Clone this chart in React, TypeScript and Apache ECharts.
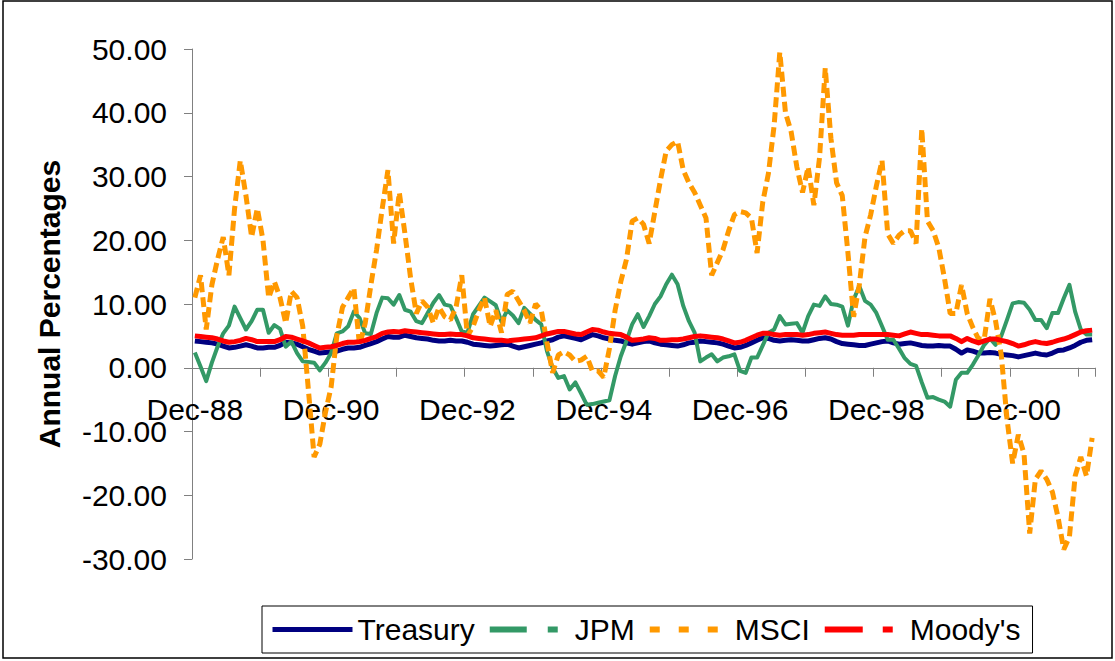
import React, { useEffect, useRef } from "react";
import * as echarts from "echarts";

const FONT = "'Liberation Sans', Arial, Helvetica, sans-serif";

const MONTH_NAMES = ["Jan", "Feb", "Mar", "Apr", "May", "Jun", "Jul", "Aug", "Sep", "Oct", "Nov", "Dec"];
const START_YEAR = 1988;
const START_MONTH = 11; // December

const seriesNames = ["Treasury", "JPM", "MSCI", "Moody's"];

const treasury = [
  4.2, 4.1, 4.0, 3.9, 3.7, 3.4, 3.1, 3.2, 3.4, 3.6, 3.4, 3.1,
  3.1, 3.2, 3.2, 3.5, 4.0, 3.9, 3.7, 3.3, 2.9, 2.6, 2.3, 2.4,
  2.5, 2.6, 2.9, 3.1, 3.1, 3.2, 3.5, 3.8, 4.1, 4.5, 4.9, 4.8,
  4.8, 5.1, 4.9, 4.7, 4.6, 4.5, 4.3, 4.2, 4.2, 4.3, 4.2, 4.2,
  4.0, 3.7, 3.6, 3.5, 3.4, 3.5, 3.6, 3.7, 3.4, 3.1, 3.3, 3.5,
  3.7, 3.9, 4.2, 4.4, 4.8, 5.0, 4.8, 4.6, 4.4, 4.8, 5.2, 5.0,
  4.7, 4.5, 4.3, 4.2, 3.9, 3.7, 3.9, 4.1, 4.2, 3.9, 3.7, 3.6,
  3.5, 3.4, 3.6, 3.9, 4.0, 4.2, 4.1, 4.0, 3.9, 3.7, 3.4, 3.1,
  3.2, 3.5, 3.9, 4.3, 4.7, 4.6, 4.3, 4.2, 4.3, 4.4, 4.3, 4.2,
  4.2, 4.4, 4.6, 4.7, 4.5, 4.1, 3.8, 3.7, 3.6, 3.5, 3.5, 3.7,
  3.9, 4.1, 4.2, 3.9, 3.7, 3.8, 3.9, 3.7, 3.5, 3.4, 3.4, 3.5,
  3.4, 3.4, 2.9, 2.3, 2.8, 2.6, 2.3, 2.3, 2.4, 2.3, 2.1, 2.0,
  1.9, 1.7, 1.9, 2.1, 2.3, 2.1, 2.0, 2.3, 2.7, 2.8, 3.1, 3.5,
  4.0, 4.3, 4.4,
];

const jpm = [
  2.4, 0.2, -2.1, 0.8, 3.3, 5.4, 6.6, 9.6, 7.8, 6.0, 7.3, 9.1,
  9.1, 5.5, 6.7, 6.1, 3.3, 4.1, 2.3, 1.0, 0.9, 0.8, -0.4, 0.8,
  2.3, 5.4, 5.7, 6.5, 8.8, 7.8, 5.4, 5.3, 8.6, 11.0, 10.9, 9.9,
  11.4, 9.1, 8.8, 7.3, 7.0, 8.6, 10.2, 11.4, 9.9, 9.7, 7.8, 5.7,
  5.5, 8.4, 9.7, 11.0, 10.4, 9.8, 7.2, 9.0, 8.2, 7.0, 9.4, 8.5,
  7.5, 6.8, 2.6, 0.0, -1.6, -1.3, -3.4, -2.3, -4.0, -5.8, -5.7, -5.5,
  -5.3, -5.1, -1.3, 1.8, 4.2, 6.8, 8.4, 6.4, 8.1, 10.0, 11.2, 13.1,
  14.6, 13.1, 9.7, 7.3, 5.5, 1.0, 1.6, 2.1, 1.0, 1.6, 1.8, 2.1,
  -0.5, -0.8, 1.6, 1.6, 3.5, 5.5, 6.0, 8.1, 6.8, 6.9, 7.0, 5.5,
  8.1, 9.9, 9.7, 11.2, 10.0, 9.9, 9.6, 6.6, 10.7, 12.8, 10.5, 9.9,
  8.6, 6.5, 4.4, 4.4, 3.0, 1.5, 0.6, 0.3, -2.3, -4.7, -4.6, -5.0,
  -5.3, -6.1, -1.9, -0.8, -0.8, 0.5, 2.0, 3.6, 4.6, 3.6, 5.0, 7.5,
  10.1, 10.3, 10.2, 9.1, 7.5, 7.5, 6.2, 8.6, 8.6, 10.9, 13.0, 8.8,
  6.0, 5.2, 5.2,
];

const msci = [
  11, 14.5, 6, 13, 17, 20.5, 14.5, 25, 32.5, 27, 20.5, 25,
  20, 11, 13.5, 11, 7, 12, 11, 6.5, -3.5, -14, -12, -7,
  -3, 5, 9.5, 11, 12.5, 3.5, 7, 13, 18.5, 25, 31, 19.5,
  27.5, 21, 14, 8.5, 10.5, 9.5, 7, 9.5, 8, 7.5, 9.5, 14.5,
  5, 6.5, 9, 11, 6.5, 9, 5.5, 11.5, 12, 10.5, 9, 7,
  10, 9, 4, -0.8, 2, 2.5, 2, 1, 1.2, 1.8, -0.5, -0.5,
  -1.5, 3, 9, 13.5, 17, 23, 23.5, 22.5, 19.5, 24.5, 29.5, 34,
  35, 35.5, 31, 29, 27.5, 25.5, 23.5, 14.5, 16.5, 18.5, 21.5, 24,
  24.5, 24.3, 23.5, 18, 26, 30.5, 38, 49.5, 40, 37, 31.5, 27.5,
  31.5, 25.5, 33, 47, 36, 29, 27, 18, 8, 13, 20.5, 24,
  28.5, 32.5, 21, 19.5, 20.8, 21.5, 21.5, 19.5, 37.5, 23, 21.5, 18.8,
  14, 8.5, 8.5, 13, 8.5, 6.3, 4.5, 4.5, 10.8, 7.3, 2, -8,
  -15, -10.5, -13.5, -26, -17.5, -16.2, -17.5, -19.5, -23.5, -28.5, -26.5, -17,
  -14, -17, -11,
];

const moodys = [
  5.0, 4.9, 4.8, 4.7, 4.5, 4.2, 4.0, 4.1, 4.3, 4.6, 4.4, 4.1,
  4.1, 4.1, 4.1, 4.4, 4.9, 4.8, 4.5, 4.2, 3.9, 3.5, 3.1, 3.2,
  3.3, 3.5, 3.8, 4.0, 4.0, 4.1, 4.3, 4.6, 4.9, 5.4, 5.6, 5.7,
  5.6, 5.8, 5.7, 5.6, 5.5, 5.4, 5.3, 5.2, 5.2, 5.3, 5.2, 5.2,
  5.0, 4.7, 4.6, 4.5, 4.4, 4.3, 4.3, 4.2, 4.3, 4.4, 4.5, 4.6,
  4.7, 5.0, 5.3, 5.5, 5.7, 5.7, 5.5, 5.3, 5.2, 5.6, 6.0, 5.9,
  5.6, 5.4, 5.3, 5.2, 4.8, 4.3, 4.4, 4.5, 4.7, 4.6, 4.3, 4.3,
  4.4, 4.4, 4.5, 4.7, 4.9, 5.0, 4.9, 4.8, 4.7, 4.5, 4.2, 3.9,
  4.0, 4.3, 4.7, 5.1, 5.4, 5.4, 5.2, 5.1, 5.2, 5.2, 5.2, 5.1,
  5.2, 5.4, 5.5, 5.6, 5.4, 5.2, 5.1, 5.1, 5.1, 5.2, 5.2, 5.2,
  5.2, 5.2, 5.2, 5.1, 5.0, 5.3, 5.6, 5.4, 5.2, 5.2, 5.1, 5.0,
  5.0, 5.0, 4.6, 4.1, 4.6, 4.2, 3.9, 4.2, 4.5, 4.5, 4.3, 4.1,
  3.8, 3.4, 3.6, 3.9, 4.1, 3.9, 3.8, 4.0, 4.3, 4.5, 4.8, 5.2,
  5.6, 5.8, 5.9,
];

const Y_MIN = -30;
const Y_MAX = 50;
const Y_STEP = 10;

const categories = treasury.map((_, k) => {
  const m = START_MONTH + k;
  const y = START_YEAR + Math.floor(m / 12);
  return `${MONTH_NAMES[m % 12]}-${String(y % 100).padStart(2, "0")}`;
});

const GRID_TOP = 49;
const GRID_BOTTOM = 102;
const CHART_H = 661;

export default function App() {
  const ref = useRef<HTMLDivElement>(null);

  useEffect(() => {
    if (!ref.current) return;
    const chart = echarts.init(ref.current, undefined, { renderer: "svg" });
    const axisGray = "#808080";
    // distance from grid bottom to the zero line (category axis crosses at 0)
    const plotH = CHART_H - GRID_TOP - GRID_BOTTOM;
    const zeroOffset = (plotH * (0 - Y_MIN)) / (Y_MAX - Y_MIN);
    const option = {
      animation: false,
      backgroundColor: "#ffffff",
      textStyle: { fontFamily: FONT },
      grid: { left: 192, right: 20, top: GRID_TOP, bottom: GRID_BOTTOM, containLabel: false },
      graphic: [
        {
          type: "rect",
          shape: { x: 3, y: 1, width: 1109, height: 657 },
          style: { fill: "none", stroke: "#000", lineWidth: 1.5 },
          silent: true,
        },
      ],
      legend: {
        left: 262,
        top: 606,
        orient: "horizontal",
        padding: [8, 12, 8, 8],
        borderColor: "#000",
        borderWidth: 1,
        itemWidth: 80,
        itemHeight: 14,
        itemGap: 12,
        itemStyle: { opacity: 0, borderWidth: 0 },
        textStyle: { fontSize: 30, fontFamily: FONT, color: "#000", lineHeight: 31 },
        data: [
          { name: seriesNames[0], lineStyle: { width: 5, type: "solid" } },
          { name: seriesNames[1], lineStyle: { width: 6, type: [37, 21, 10, 100] } },
          { name: seriesNames[2], lineStyle: { width: 6, type: [10, 19] } },
          { name: seriesNames[3], lineStyle: { width: 6, type: [38, 20, 10, 100] } },
        ],
      },
      xAxis: {
        type: "category",
        data: categories,
        boundaryGap: true,
        offset: -zeroOffset,
        axisLine: { show: true, onZero: false, lineStyle: { color: axisGray, width: 1 } },
        axisTick: { show: true, interval: 11, length: 9, lineStyle: { color: axisGray } },
        axisLabel: {
          interval: 23,
          margin: 27,
          fontSize: 30,
          lineHeight: 30,
          fontFamily: FONT,
          color: "#000",
        },
        splitLine: { show: false },
      },
      yAxis: {
        type: "value",
        min: Y_MIN,
        max: Y_MAX,
        interval: Y_STEP,
        name: "Annual Percentages",
        nameLocation: "middle",
        nameRotate: 90,
        nameGap: 128,
        nameTextStyle: { fontSize: 30, fontWeight: "bold", fontFamily: FONT, color: "#000" },
        axisLine: { show: true, lineStyle: { color: axisGray, width: 1 } },
        axisTick: { show: true, length: 8, lineStyle: { color: axisGray } },
        axisLabel: {
          margin: 25,
          fontSize: 30,
          fontFamily: FONT,
          color: "#000",
          formatter: (v: number) => v.toFixed(2),
        },
        splitLine: { show: false },
      },
      series: [
        {
          name: seriesNames[0],
          type: "line",
          data: treasury,
          symbol: "none",
          itemStyle: { color: "#000080" },
          lineStyle: { color: "#000080", width: 5, join: "round" },
        },
        {
          name: seriesNames[1],
          type: "line",
          data: jpm,
          symbol: "none",
          itemStyle: { color: "#339966" },
          lineStyle: { color: "#339966", width: 4, join: "round" },
        },
        {
          name: seriesNames[2],
          type: "line",
          data: msci,
          symbol: "none",
          itemStyle: { color: "#FF9900" },
          lineStyle: { color: "#FF9900", width: 5, type: [10, 5] },
        },
        {
          name: seriesNames[3],
          type: "line",
          data: moodys,
          symbol: "none",
          itemStyle: { color: "#FF0000" },
          lineStyle: { color: "#FF0000", width: 5, join: "round" },
        },
      ],
    };
    chart.setOption(option as any);
    return () => {
      chart.dispose();
    };
  }, []);

  return (
    <div
      ref={ref}
      style={{ position: "fixed", left: 0, top: 0, width: 1115, height: 661, background: "#fff" }}
    />
  );
}
